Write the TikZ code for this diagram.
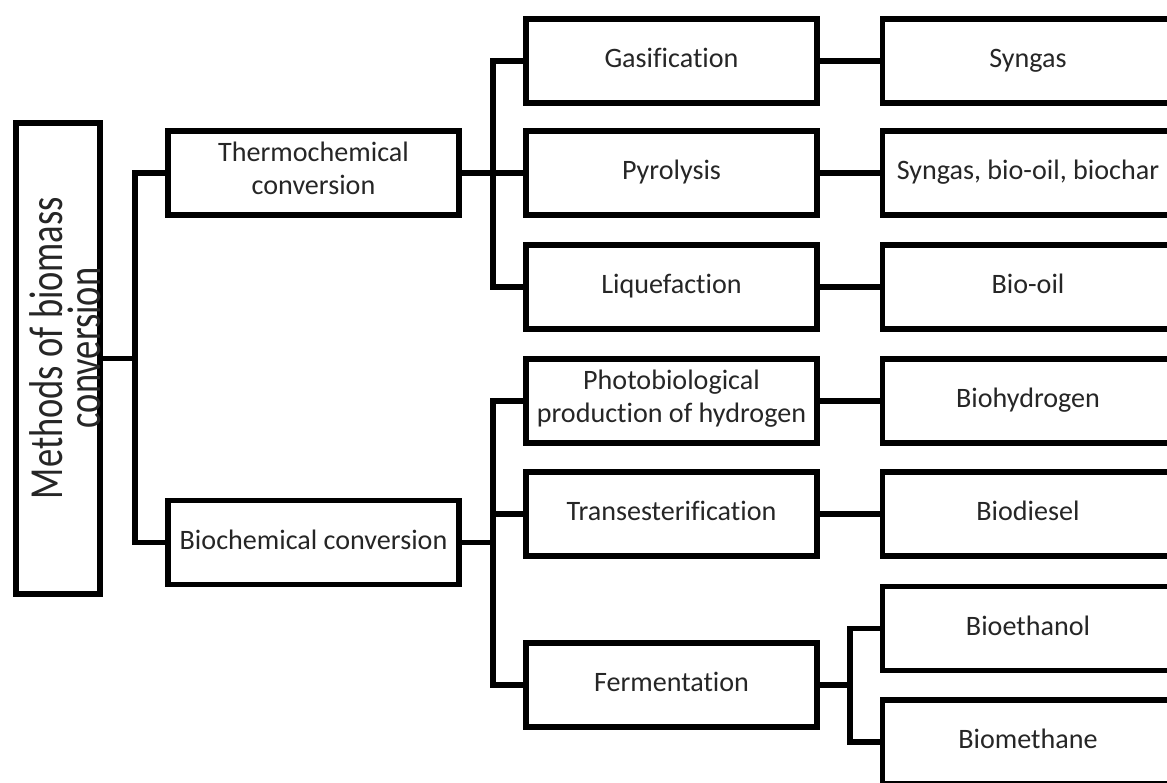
\documentclass[tikz,border=0pt]{standalone}
\usepackage{fontspec}
\setmainfont{Carlito}[Ligatures=NoCommon]
\usepackage{tikz}
\usetikzlibrary{positioning}

\begin{document}
\begin{tikzpicture}[
			x=0.02cm, y=-0.02cm,
			stagebox/.style={rectangle, draw=black, fill=white, line width=0.11cm, minimum width=5.82cm, minimum height=1.68cm, inner sep=0pt, align=center, text=black!85, font=\fontsize{16}{19}\selectfont, execute at begin node=\strut, execute at end node=\strut},
			rootbox/.style={rectangle, draw=black, line width=0.11cm, minimum width=1.69cm, minimum height=9.43cm, inner sep=0pt},
			roottext/.style={rotate=90, xscale=0.77, inner sep=0pt, align=center, text=black!85, font=\fontsize{27}{21.5}\selectfont},
			link/.style={draw=black, line width=0.11cm},
			]
			%Frame
				\useasboundingbox (0,0) rectangle (1167,782);
				\clip (0,0) rectangle (1167,782);

			%Nodes
				\node[rootbox]		(methods)		at (58,358.5)	{};
				\node[roottext]		(methodsText)	at (65,348)		{Methods of biomass\\conversion};
				\node[stagebox]		(thermo)		at (313.5,173)	{Thermochemical\\conversion};
				\node[stagebox]		(biochem)		at (313.5,542.5)	{Biochemical conversion};
				\node[stagebox]		(gasif)			at (671.5,61)	{Gasification};
				\node[stagebox]		(pyrol)			at (671.5,173)	{Pyrolysis};
				\node[stagebox]		(liquef)		at (671.5,287)	{Liquefaction};
				\node[stagebox]		(photo)			at (671.5,401)	{Photobiological\\production of hydrogen};
				\node[stagebox]		(transest)		at (671.5,514)	{Transesterification};
				\node[stagebox]		(ferment)		at (671.5,685)	{Fermentation};
				\node[stagebox]		(syngas)		at (1028,61)	{Syngas};
				\node[stagebox]		(mixprod)		at (1028,173)	{Syngas, bio-oil, biochar};
				\node[stagebox]		(biooil)		at (1028,287)	{Bio-oil};
				\node[stagebox]		(biohydro)		at (1028,401)	{Biohydrogen};
				\node[stagebox]		(biodiesel)		at (1028,514)	{Biodiesel};
				\node[stagebox]		(bioethanol)	at (1028,628.5)	{Bioethanol};
				\node[stagebox]		(biomethane)	at (1028,742)	{Biomethane};

				\coordinate (rootSplit)		at (135,358.5);
				\coordinate (thermoSplit)	at (493,173);
				\coordinate (bioSplit)		at (493,542.5);
				\coordinate (fermSplit)		at (850,685);

			%Lines
				\draw[link] (methods.east) -- (rootSplit);
				\draw[link] (thermo.west) -| (rootSplit) |- (biochem.west);
				\draw[link] (thermo.east) -- (pyrol.west);
				\draw[link] (gasif.west) -| (thermoSplit) |- (liquef.west);
				\draw[link] (biochem.east) -- (bioSplit);
				\draw[link] (photo.west) -| (bioSplit) |- (ferment.west);
				\draw[link] (transest.west) -- (transest.west -| bioSplit);
				\draw[link] (ferment.east) -- (fermSplit);
				\draw[link] (bioethanol.west) -| (fermSplit) |- (biomethane.west);
				\draw[link] (gasif.east) -- (syngas.west);
				\draw[link] (pyrol.east) -- (mixprod.west);
				\draw[link] (liquef.east) -- (biooil.west);
				\draw[link] (photo.east) -- (biohydro.west);
				\draw[link] (transest.east) -- (biodiesel.west);
		\end{tikzpicture}
\end{document}
